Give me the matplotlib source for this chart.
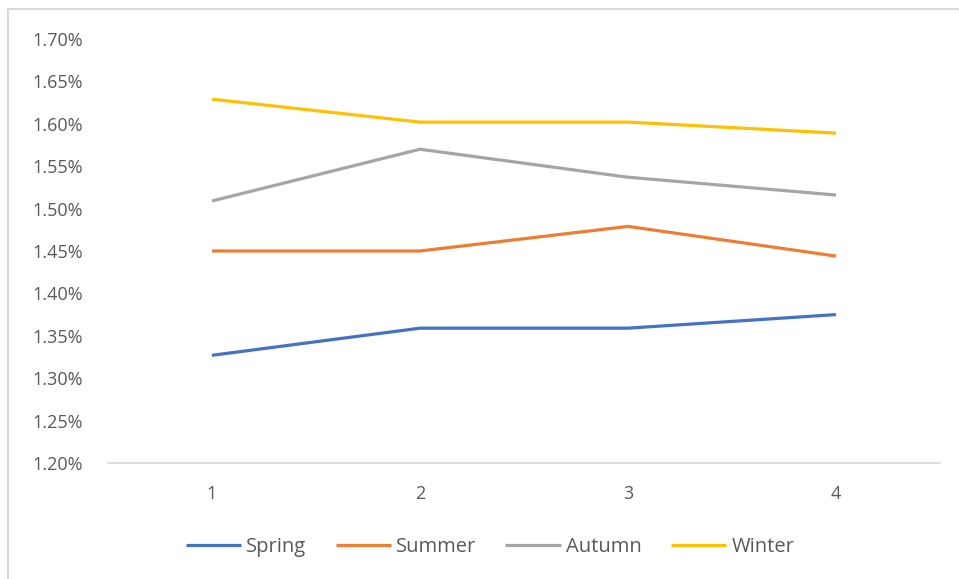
import matplotlib
matplotlib.use("Agg")
import matplotlib.pyplot as plt
from matplotlib.lines import Line2D
from matplotlib.ticker import FuncFormatter

categories = [1, 2, 3, 4]
spring = [1.327, 1.359, 1.359, 1.375]
summer = [1.450, 1.450, 1.479, 1.444]
autumn = [1.509, 1.570, 1.537, 1.516]
winter = [1.629, 1.602, 1.602, 1.589]
series_names = ["Spring", "Summer", "Autumn", "Winter"]
colors = ["#4472C4", "#ED7D31", "#A5A5A5", "#FFC000"]
y_ticks = [1.20, 1.25, 1.30, 1.35, 1.40, 1.45, 1.50, 1.55, 1.60, 1.65, 1.70]

plt.rcParams['font.family'] = ['Open Sans', 'DejaVu Sans']

fig = plt.figure(figsize=(9.59, 5.79), dpi=100)
ax = fig.add_axes([108/959, 1 - 463/579, (940-108)/959, (463-39)/579])

for name, vals, c in zip(series_names, [spring, summer, autumn, winter], colors):
    ax.plot(categories, vals, color=c, lw=2.3, label=name, solid_capstyle='butt')

ax.set_xlim(0.5, 4.5)
ax.set_ylim(1.20, 1.70)
ax.set_yticks(y_ticks)
ax.yaxis.set_major_formatter(FuncFormatter(lambda v, p: f"{v:.2f}%"))
ax.set_xticks(categories)
ax.set_xticklabels([str(c) for c in categories])

for s in ['top', 'right', 'left']:
    ax.spines[s].set_visible(False)
ax.spines['bottom'].set_color('#d9d9d9')
ax.spines['bottom'].set_linewidth(1.2)
ax.tick_params(axis='both', length=0, labelsize=13, labelcolor='#595959')
ax.tick_params(axis='y', pad=18)
ax.tick_params(axis='x', pad=16)

leg = fig.legend(loc='center', bbox_to_anchor=(490/959, 1 - 547/579), ncol=4,
                 frameon=False, fontsize=14.5, handlelength=2.75, handletextpad=0.25,
                 columnspacing=1.45)
for t in leg.get_texts():
    t.set_color('#595959')

# chart area frame (left and top edges)
fig.add_artist(Line2D([8/959, 8/959], [0, 1 - 9/579], transform=fig.transFigure,
                      color='#d9d9d9', lw=1.5))
fig.add_artist(Line2D([8/959, 1], [1 - 9/579, 1 - 9/579], transform=fig.transFigure,
                      color='#d9d9d9', lw=1.5))

fig.savefig("out.png", dpi=100)
